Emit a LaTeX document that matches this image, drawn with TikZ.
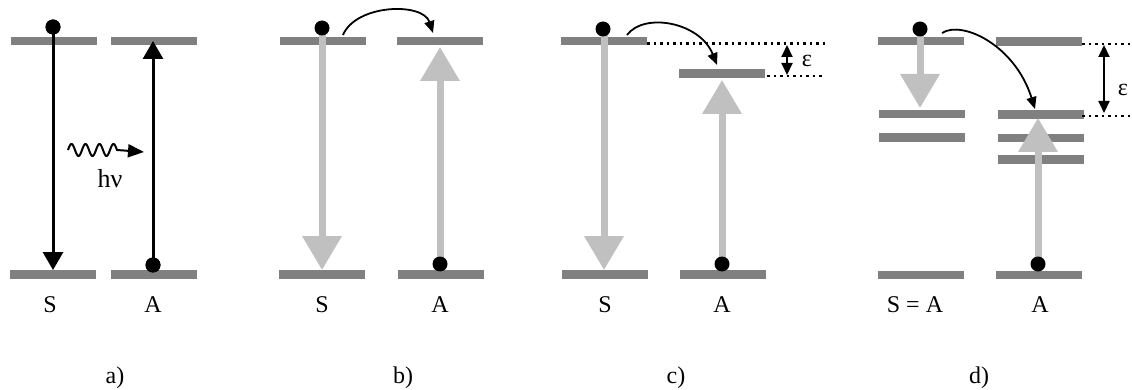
\documentclass[tikz,border=0pt]{standalone}
\usepackage{fontspec}
\setmainfont{Liberation Serif}
\usetikzlibrary{arrows.meta}
\definecolor{barcol}{RGB}{128,128,128}
\definecolor{arrcol}{RGB}{192,192,192}
\begin{document}
\begin{tikzpicture}[x=1pt,y=-1pt,
 lvl/.style={fill=barcol,draw=none,minimum width=86pt,minimum height=8.5pt,inner sep=0pt},
 dotn/.style={circle,fill=black,draw=none,minimum size=15pt,inner sep=0pt},
 lbl/.style={font=\fontsize{24}{29}\selectfont,inner sep=0pt,anchor=base},
 blk/.style={line width=3pt,-{Triangle[width=20pt,length=18pt]}},
 gry/.style={draw=arrcol,line width=7pt,-{Triangle[width=38pt,length=34pt]}},
 hop/.style={line width=1.8pt,-{Triangle[width=10pt,length=12pt]}},
 dotline/.style={line width=2.5pt,dash pattern=on 2.5pt off 4pt},
 eps/.style={line width=2pt,{Triangle[width=11pt,length=12pt]}-{Triangle[width=11pt,length=12pt]}}
]
\useasboundingbox (0,0) rectangle (1132,390);

% ---------- panel a ----------
\node[lvl] (aS1) at (54,41) {};
\node[lvl] (aA1) at (154,41) {};
\node[lvl] (aS0) at (53,274.5) {};
\node[lvl] (aA0) at (154,274.5) {};
\node[dotn] (aSd) at (53,27) {};
\node[dotn] (aAd) at (153,265) {};
\draw[blk] (aSd.center) -- (aSd |- aS0.north);
\draw[blk] (aAd.center) -- (aAd |- aA1.center);
\node[dotn] at (aSd) {};
\node[dotn] at (aAd) {};
\coordinate (w0) at (68,150);
\coordinate (w1) at (144,152);
\draw[line width=2pt,-{Triangle[width=13pt,length=16pt]}]
  plot[domain=0:49,samples=120] ({68+\x},{150-6*sin(\x*25.714)}) -- (w1);
\node[lbl,font=\fontsize{26}{31}\selectfont] (hnu) at (110,188) {hν};
\node[lbl] (aSl) at (50,312.5) {S};
\node[lbl] (aAl) at (153,312.5) {A};
\node[lbl] (pa) at (115,383) {a)};

% ---------- panel b ----------
\node[lvl] (bS1) at (323,41) {};
\node[lvl] (bA1) at (440,41) {};
\node[lvl] (bS0) at (322,274.5) {};
\node[lvl] (bA0) at (441,274.5) {};
\coordinate (bSt) at (322,34);
\coordinate (bAt) at (440,47);
\draw[gry] (bSt) -- (bSt |- bS0.north);
\draw[gry] (440,264) -- (bAt);
\node[dotn] (bSd) at (322,28) {};
\node[dotn] (bAd) at (440,264) {};
\coordinate (bh0) at (343,35);
\coordinate (bh1) at (433,33);
\draw[hop] (bh0) .. controls (356,4) and (423,2) .. (bh1);
\node[lbl] (bSl) at (322,312.5) {S};
\node[lbl] (bAl) at (440,312.5) {A};
\node[lbl] (pb) at (403,383) {b)};

% ---------- panel c ----------
\node[lvl] (cS1) at (604,41) {};
\node[lvl] (cA1) at (722,73.5) {};
\node[lvl] (cS0) at (604.5,274.5) {};
\node[lvl] (cA0) at (723,274.5) {};
\coordinate (cSt) at (604,35);
\coordinate (cAt) at (722,80);
\draw[gry] (cSt) -- (cSt |- cS0.north);
\draw[gry] (722,264) -- (cAt);
\node[dotn] (cSd) at (603,29) {};
\node[dotn] (cAd) at (722,264) {};
\coordinate (ch0) at (627,35);
\coordinate (ch1) at (717,65);
\draw[hop] (ch0) .. controls (644,12) and (700,22) .. (ch1);
\coordinate (cd0) at (647,43.5);
\coordinate (cd1) at (827,43.5);
\coordinate (cd2) at (767,76);
\coordinate (cd3) at (823,76);
\draw[dotline] (cd0) -- (cd1);
\draw[dotline] (cd2) -- (cd3);
\coordinate (ce0) at (787,45);
\coordinate (ce1) at (787,75);
\draw[eps] (ce0) -- (ce1);
\node[lbl] (ceps) at (807,67) {ε};
\node[lbl] (cSl) at (605,312.5) {S};
\node[lbl] (cAl) at (722,312.5) {A};
\node[lbl] (pc) at (676,383) {c)};

% ---------- panel d ----------
\node[lvl] (dS1) at (921,41) {};
\node[lvl] (dA1) at (1039,41.5) {};
\node[lvl] (dS2) at (921.5,114) {};
\node[lvl] (dS3) at (921.5,137.5) {};
\node[lvl] (dA2) at (1041,114.5) {};
\node[lvl] (dA3) at (1041,138) {};
\node[lvl] (dA4) at (1041,159.5) {};
\node[lvl] (dS0) at (920.5,275) {};
\node[lvl] (dA0) at (1039,275) {};
\coordinate (dSt) at (920,35);
\coordinate (dSe) at (920,108);
\coordinate (dAt) at (1038,118);
\draw[gry] (dSt) -- (dSe);
\draw[gry] (1038,264) -- (dAt);
\node[dotn] (dSd) at (920,29) {};
\node[dotn] (dAd) at (1038,264) {};
\coordinate (dh0) at (942,33);
\coordinate (dh1) at (1035,109);
\draw[hop] (dh0) .. controls (962,20) and (1015,45) .. (dh1);
\coordinate (dd0) at (1082,44);
\coordinate (dd1) at (1132,44);
\coordinate (dd2) at (1082,116);
\coordinate (dd3) at (1132,116);
\draw[dotline] (dd0) -- (dd1);
\draw[dotline] (dd2) -- (dd3);
\coordinate (de0) at (1104,45);
\coordinate (de1) at (1104,113);
\draw[eps] (de0) -- (de1);
\node[lbl] (deps) at (1123,96) {ε};
\node[lbl] (dSl) at (915,312.5) {S = A};
\node[lbl] (dAl) at (1040,312.5) {A};
\node[lbl] (pd) at (979,383) {d)};
\end{tikzpicture}
\end{document}
